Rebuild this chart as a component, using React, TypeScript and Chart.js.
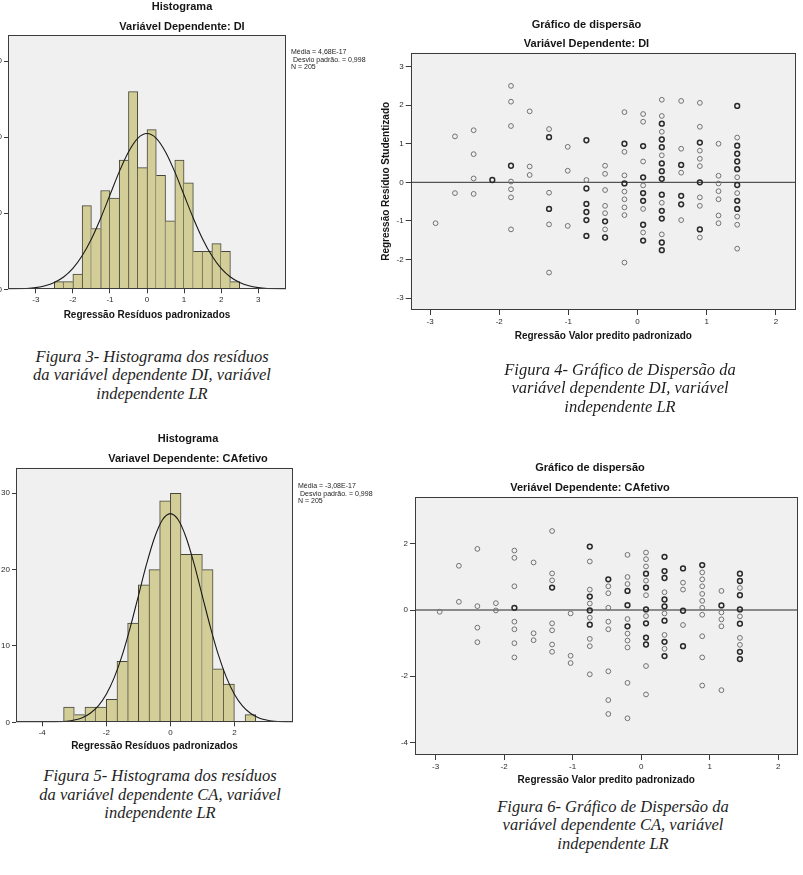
import React, { useEffect, useRef } from 'react';
import { Chart, registerables } from 'chart.js';

Chart.register(...registerables);

const FONT = "'Liberation Sans', Arial, Helvetica, sans-serif";
Chart.defaults.font.family = FONT;

// ---------------- Figura 3: histogram of residuals, DI ----------------
const diBinCenters = [-2.375, -2.125, -1.875, -1.625, -1.375, -1.125, -0.875, -0.625, -0.375, -0.125,
  0.125, 0.375, 0.625, 0.875, 1.125, 1.375, 1.625, 1.875, 2.125, 2.375];
const diCounts = [1, 1, 2, 11, 8, 13, 12, 17, 26, 16, 21, 15, 9, 17, 14, 5, 5, 6, 5, 1];
const diCurveX = [-3.75, -3.5, -3.25, -3, -2.75, -2.5, -2.25, -2, -1.75, -1.5, -1.25, -1, -0.75, -0.5, -0.25, 0,
  0.25, 0.5, 0.75, 1, 1.25, 1.5, 1.75, 2, 2.25, 2.5, 2.75, 3, 3.25, 3.5, 3.75];
const diCurveY = [0.018, 0.044, 0.102, 0.224, 0.46, 0.889, 1.61, 2.75, 4.41, 6.62, 9.35, 12.4, 15.45, 18.07, 19.86, 20.49,
  19.86, 18.07, 15.45, 12.4, 9.35, 6.62, 4.41, 2.75, 1.61, 0.889, 0.46, 0.224, 0.102, 0.044, 0.018];
const diHistXTicks = [-3, -2, -1, 0, 1, 2, 3];
const diHistYTicks = [0, 10, 20, 30];
const diStats = ['Média = 4,68E-17', ' Desvio padrão. = 0,998', 'N = 205'];

// ---------------- Figura 5: histogram of residuals, CA ----------------
const caBinCenters = [-3.167, -2.833, -2.5, -2.167, -1.833, -1.5, -1.167, -0.833, -0.5, -0.167,
  0.167, 0.5, 0.833, 1.167, 1.5, 1.833, 2.167, 2.5];
const caCounts = [2, 1, 2, 2, 3, 8, 13, 18, 20, 29, 30, 22, 22, 20, 7, 5, 0, 1];
const caCurveX = [-5, -4.75, -4.5, -4.25, -4, -3.75, -3.5, -3.25, -3, -2.75, -2.5, -2.25, -2, -1.75, -1.5, -1.25, -1,
  -0.75, -0.5, -0.25, 0, 0.25, 0.5, 0.75, 1, 1.25, 1.5, 1.75, 2, 2.25, 2.5, 2.75, 3, 3.25, 3.5, 3.75, 4];
const caCurveY = [0.0001, 0.0003, 0.001, 0.003, 0.009, 0.023, 0.058, 0.136, 0.3, 0.61, 1.19, 2.15, 3.67, 5.88, 8.83, 12.47, 16.54,
  20.61, 24.11, 26.49, 27.33, 26.49, 24.11, 20.61, 16.54, 12.47, 8.83, 5.88, 3.67, 2.15, 1.19, 0.61, 0.3, 0.136, 0.058, 0.023, 0.009];
const caHistXTicks = [-4, -2, 0, 2];
const caHistYTicks = [0, 10, 20, 30];
const caStats = ['Média = -3,08E-17', ' Desvio padrão. = 0,998', 'N = 205'];

// ---------------- Figura 4: scatter DI ----------------
const diPredicted = [-2.92, -2.64, -2.37, -2.10, -1.83, -1.56, -1.28, -1.01, -0.74, -0.47, -0.19, 0.08, 0.35, 0.63, 0.90, 1.17, 1.44];
const diResiduals: number[][] = [
  [-1.06],
  [1.19, -0.28],
  [1.35, 0.73, 0.10, -0.30],
  [0.06, 0.06],
  [2.50, 2.09, 1.46, 0.43, 0.43, 0.02, -0.18, -0.39, -1.22],
  [1.84, 0.41, 0.19],
  [1.38, 1.17, 1.17, -0.27, -0.69, -0.69, -1.09, -2.34],
  [0.92, 0.30, -1.13],
  [1.09, 1.09, 0.06, -0.16, -0.16, -0.56, -0.56, -0.77, -0.77, -0.98, -0.98, -1.39, -1.39],
  [0.43, 0.22, -0.20, -0.61, -0.80, -1.01, -1.01, -1.22, -1.43, -1.43],
  [1.82, 1.00, 1.00, 0.79, 0.18, -0.03, -0.03, -0.24, -0.44, -0.65, -0.85, -2.08],
  [1.77, 1.57, 0.94, 0.94, 0.54, 0.13, 0.13, -0.08, -0.28, -0.28, -0.48, -0.48, -0.69, -1.10, -1.10, -1.30, -1.51, -1.51],
  [2.14, 1.72, 1.52, 1.52, 1.31, 1.11, 1.11, 0.91, 0.91, 0.70, 0.49, 0.49, 0.29, 0.29, 0.09, 0.09, -0.32, -0.32, -0.53,
    -0.74, -0.74, -0.94, -0.94, -1.35, -1.56, -1.56, -1.76, -1.76],
  [2.11, 0.87, 0.45, 0.45, 0.25, -0.35, -0.35, -0.57, -0.57, -0.98],
  [2.06, 1.44, 1.03, 1.03, 0.82, 0.61, 0.42, 0.00, 0.00, -0.39, -0.61, -1.22, -1.22, -1.43],
  [1.00, 0.17, -0.03, -0.23, -0.44, -0.86, -1.06],
  [1.98, 1.98, 1.16, 0.95, 0.95, 0.74, 0.74, 0.54, 0.54, 0.34, 0.34, 0.13, -0.07, -0.07, -0.28, -0.48, -0.48,
    -0.69, -0.69, -0.89, -1.10, -1.72],
];
const scatterXTicks = [-3, -2, -1, 0, 1, 2];
const diScatterYTicks = [-3, -2, -1, 0, 1, 2, 3];

// ---------------- Figura 6: scatter CA ----------------
const caPredicted = [-2.94, -2.66, -2.39, -2.12, -1.85, -1.57, -1.30, -1.03, -0.75, -0.48, -0.20, 0.07, 0.34, 0.61, 0.89, 1.17, 1.44];
const caResiduals: number[][] = [
  [-0.05],
  [1.34, 0.25],
  [1.85, 0.12, -0.53, -0.97],
  [0.21, -0.01],
  [1.80, 1.58, 0.72, 0.07, 0.07, -0.35, -0.58, -1.00, -1.43],
  [1.44, -0.70, -0.91],
  [2.39, 1.11, 0.90, 0.68, 0.68, -0.40, -0.61, -1.04, -1.26],
  [-0.10, -1.38, -1.60],
  [1.92, 1.92, 1.47, 0.62, 0.41, 0.41, 0.20, -0.01, -0.01, -0.23, -0.44, -0.44, -0.87, -1.09, -1.94],
  [0.93, 0.93, 0.72, 0.51, 0.07, -0.35, -0.58, -1.85, -2.72, -3.14],
  [1.67, 1.00, 0.79, 0.58, 0.58, 0.15, 0.15, -0.27, -0.49, -0.49, -0.71, -0.92, -1.13, -2.20, -3.27],
  [1.74, 1.54, 1.32, 1.10, 1.10, 0.89, 0.68, 0.68, 0.45, 0.02, 0.02, -0.18, -0.40, -0.40, -0.83, -0.83, -1.04, -1.04, -1.69, -2.55],
  [1.61, 1.61, 1.18, 1.18, 0.97, 0.97, 0.54, 0.32, 0.32, 0.11, 0.11, -0.10, -0.32, -0.32, -0.75, -0.96, -0.96, -1.17, -1.39, -1.39],
  [1.26, 1.26, 0.83, 0.62, -0.02, -0.02, -0.45, -1.09, -1.09],
  [1.36, 1.36, 1.14, 0.93, 0.72, 0.49, 0.28, 0.07, -0.14, -0.79, -1.43, -2.28],
  [0.58, 0.14, 0.14, -0.07, -0.28, -0.49, -2.42],
  [1.10, 1.10, 0.88, 0.88, 0.67, 0.45, 0.45, 0.02, 0.02, -0.19, -0.41, -0.41, -0.84, -1.05, -1.26, -1.26, -1.48, -1.48],
];
const caScatterYTicks = [-4, -2, 0, 2];
const referenceLine = 0;

// ---------------- captions ----------------
const fig3Caption = ['Figura 3- Histograma dos resíduos', 'da variável dependente DI, variável', 'independente LR'];
const fig4Caption = ['Figura 4- Gráfico de Dispersão da', 'variável dependente DI, variável', 'independente LR'];
const fig5Caption = ['Figura 5- Histograma dos resíduos', 'da variável dependente CA, variável', 'independente LR'];
const fig6Caption = ['Figura 6- Gráfico de Dispersão da', 'variável dependente CA, variável', 'independente LR'];

// ---------------- styling ----------------
const PLOT_BG = '#f0f0f0';
const FRAME = '#3c3c3c';
const AXIS_COLOR = '#3a3a3a';
const BAR_FILL = '#d3ce97';
const BAR_EDGE = '#45453a';
const TEXT = '#151515';

function frameAndBackground() {
  return {
    id: 'frameAndBackground',
    beforeDraw(chart: any) {
      const { ctx, chartArea: a } = chart;
      ctx.save();
      ctx.fillStyle = PLOT_BG;
      ctx.fillRect(a.left, a.top, a.right - a.left, a.bottom - a.top);
      ctx.restore();
    },
    afterDraw(chart: any) {
      const { ctx, chartArea: a } = chart;
      ctx.save();
      ctx.strokeStyle = FRAME;
      ctx.lineWidth = 1;
      const l = Math.round(a.left) + 0.5;
      const t = Math.round(a.top) + 0.5;
      const r = Math.round(a.right) - 0.5;
      const b = Math.round(a.bottom) - 0.5;
      ctx.strokeRect(l, t, r - l, b - t);
      ctx.restore();
    },
  };
}

function fixedTicks(values: number[]) {
  return (scale: any) => {
    scale.ticks = values.map((v) => ({ value: v }));
  };
}

function valueAxis(o: {
  min: number; max: number; ticks: number[]; size: number; horizontal: boolean;
  title?: string; titlePad?: number; tickLength?: number;
}) {
  return {
    type: 'linear',
    min: o.min,
    max: o.max,
    offset: false,
    afterBuildTicks: fixedTicks(o.ticks),
    afterFit: (s: any) => {
      if (o.horizontal) s.height = o.size;
      else s.width = o.size;
    },
    grid: { display: true, drawOnChartArea: false, drawTicks: true, tickLength: o.tickLength ?? 4, color: AXIS_COLOR, offset: false },
    border: { display: false },
    ticks: { font: { family: FONT, size: 8 }, color: '#2a2a2a', padding: 2, autoSkip: false, maxRotation: 0, minRotation: 0 },
    title: o.title
      ? {
          display: true,
          text: o.title,
          color: TEXT,
          font: { family: FONT, size: 10, weight: 'bold' },
          padding: o.horizontal ? { top: 0, bottom: o.titlePad ?? 0 } : { top: o.titlePad ?? 0, bottom: 0 },
        }
      : { display: false },
  };
}

function spacerAxis(width: number) {
  return {
    type: 'linear',
    position: 'right',
    display: true,
    grid: { display: false, drawTicks: false },
    border: { display: false },
    ticks: { display: false },
    afterFit: (s: any) => {
      s.width = width;
    },
  };
}

function titlePlugins(main: string, sub: string, top: number, gap: number, bottom: number) {
  return {
    legend: { display: false },
    tooltip: { enabled: false },
    title: { display: true, text: main, color: TEXT, font: { family: FONT, size: 11, weight: 'bold' }, padding: { top, bottom: gap } },
    subtitle: { display: true, text: sub, color: TEXT, font: { family: FONT, size: 11, weight: 'bold' }, padding: { top: 0, bottom } },
  };
}

function barBorders(counts: number[]) {
  return (ctx: any) => {
    const i = ctx.dataIndex;
    const c = counts[i] ?? 0;
    const prev = i > 0 ? counts[i - 1] : 0;
    const next = i < counts.length - 1 ? counts[i + 1] : 0;
    if (c <= 0) return 0;
    return { top: 1, bottom: 0, left: c > prev ? 1 : 0, right: c >= next ? 1 : 0 };
  };
}

function histogramConfig(p: {
  centers: number[]; counts: number[]; curveX: number[]; curveY: number[];
  xMin: number; xMax: number; yMax: number; xTicks: number[]; yTicks: number[];
  title: string; subtitle: string; xTitle: string;
  yWidth: number; rightWidth: number; xHeight: number; xTitlePad: number;
  tTop: number; tGap: number; tBottom: number;
}) {
  return {
    type: 'bar',
    data: {
      datasets: [
        {
          type: 'line',
          data: p.curveX.map((x, i) => ({ x, y: p.curveY[i] })),
          borderColor: '#1a1a1a',
          borderWidth: 1.1,
          pointRadius: 0,
          fill: false,
          cubicInterpolationMode: 'monotone',
          order: 0,
        },
        {
          type: 'bar',
          data: p.centers.map((x, i) => ({ x, y: p.counts[i] })),
          backgroundColor: BAR_FILL,
          borderColor: BAR_EDGE,
          borderWidth: barBorders(p.counts),
          borderSkipped: false,
          barPercentage: 1,
          categoryPercentage: 1,
          order: 1,
        },
      ],
    },
    options: {
      animation: false,
      responsive: false,
      maintainAspectRatio: false,
      layout: { padding: 0 },
      plugins: titlePlugins(p.title, p.subtitle, p.tTop, p.tGap, p.tBottom),
      scales: {
        x: valueAxis({ min: p.xMin, max: p.xMax, ticks: p.xTicks, size: p.xHeight, horizontal: true, title: p.xTitle, titlePad: p.xTitlePad }),
        y: valueAxis({ min: 0, max: p.yMax, ticks: p.yTicks, size: p.yWidth, horizontal: false }),
        y2: spacerAxis(p.rightWidth),
      },
    },
    plugins: [frameAndBackground()],
  };
}

function scatterPoints(xs: number[], ys: number[][]) {
  const map = new Map<string, { x: number; y: number; n: number }>();
  xs.forEach((x, i) =>
    ys[i].forEach((y) => {
      const k = x + '|' + y;
      const e = map.get(k);
      if (e) e.n += 1;
      else map.set(k, { x, y, n: 1 });
    })
  );
  return Array.from(map.values());
}

function scatterConfig(p: {
  xs: number[]; ys: number[][]; xMin: number; xMax: number; yMin: number; yMax: number;
  xTicks: number[]; yTicks: number[]; title: string; subtitle: string; xTitle: string; yTitle?: string;
  yWidth: number; yTitlePad?: number; rightWidth: number; xHeight: number; xTitlePad: number;
  tTop: number; tGap: number; tBottom: number; lineColor: string; lineWidth: number;
}) {
  return {
    type: 'scatter',
    data: {
      datasets: [
        {
          type: 'line',
          data: [
            { x: p.xMin, y: referenceLine },
            { x: p.xMax, y: referenceLine },
          ],
          showLine: true,
          borderColor: p.lineColor,
          borderWidth: p.lineWidth,
          pointRadius: 0,
          fill: false,
          order: 1,
        },
        {
          data: scatterPoints(p.xs, p.ys),
          pointRadius: 2.4,
          pointBackgroundColor: 'rgba(0,0,0,0)',
          pointBorderColor: (ctx: any) => (ctx.raw && ctx.raw.n > 1 ? '#2a2a2a' : '#727272'),
          pointBorderWidth: (ctx: any) => (ctx.raw && ctx.raw.n > 1 ? 1.5 : 1),
          showLine: false,
          order: 0,
        },
      ],
    },
    options: {
      animation: false,
      responsive: false,
      maintainAspectRatio: false,
      layout: { padding: 0 },
      plugins: titlePlugins(p.title, p.subtitle, p.tTop, p.tGap, p.tBottom),
      scales: {
        x: valueAxis({ min: p.xMin, max: p.xMax, ticks: p.xTicks, size: p.xHeight, horizontal: true, title: p.xTitle, titlePad: p.xTitlePad, tickLength: 5 }),
        y: valueAxis({ min: p.yMin, max: p.yMax, ticks: p.yTicks, size: p.yWidth, horizontal: false, title: p.yTitle, titlePad: p.yTitlePad, tickLength: 5 }),
        y2: spacerAxis(p.rightWidth),
      },
    },
    plugins: [frameAndBackground()],
  };
}

const makeFig3 = () =>
  histogramConfig({
    centers: diBinCenters, counts: diCounts, curveX: diCurveX, curveY: diCurveY,
    xMin: -3.75, xMax: 3.75, yMax: 33.45, xTicks: diHistXTicks, yTicks: diHistYTicks,
    title: 'Histograma', subtitle: 'Variável Dependente: DI', xTitle: 'Regressão Resíduos padronizados',
    yWidth: 32, rightWidth: 102, xHeight: 40.7, xTitlePad: 9,
    tTop: 0, tGap: 7.2, tBottom: 1.4,
  });

const makeFig5 = () =>
  histogramConfig({
    centers: caBinCenters, counts: caCounts, curveX: caCurveX, curveY: caCurveY,
    xMin: -4.82, xMax: 3.83, yMax: 33.35, xTicks: caHistXTicks, yTicks: caHistYTicks,
    title: 'Histograma', subtitle: 'Variavel Dependente: CAfetivo', xTitle: 'Regressão Resíduos padronizados',
    yWidth: 16, rightWidth: 83, xHeight: 37.7, xTitlePad: 7.3,
    tTop: 2.4, tGap: 6.8, tBottom: 2.1,
  });

const makeFig4 = () =>
  scatterConfig({
    xs: diPredicted, ys: diResiduals, xMin: -3.28, xMax: 2.29, yMin: -3.31, yMax: 3.36,
    xTicks: scatterXTicks, yTicks: diScatterYTicks,
    title: 'Gráfico de dispersão', subtitle: 'Variável Dependente: DI',
    xTitle: 'Regressão Valor predito padronizado', yTitle: 'Regressão Resíduo Studentizado',
    yWidth: 40.7, yTitlePad: 10.7, rightWidth: 7, xHeight: 40, xTitlePad: 8,
    tTop: 8.4, tGap: 5.8, tBottom: 2.1, lineColor: '#2e2e2e', lineWidth: 1,
  });

const makeFig6 = () =>
  scatterConfig({
    xs: caPredicted, ys: caResiduals, xMin: -3.3, xMax: 2.28, yMin: -4.38, yMax: 3.41,
    xTicks: scatterXTicks, yTicks: caScatterYTicks,
    title: 'Gráfico de dispersão', subtitle: 'Veriável Dependente: CAfetivo',
    xTitle: 'Regressão Valor predito padronizado',
    yWidth: 38, rightWidth: 2, xHeight: 40, xTitlePad: 9,
    tTop: 6.7, tGap: 6.8, tBottom: 2.4, lineColor: '#6a6a6a', lineWidth: 1.5,
  });

function ChartCanvas(props: { left: number; top: number; width: number; height: number; make: () => any }) {
  const ref = useRef<HTMLCanvasElement | null>(null);
  useEffect(() => {
    if (!ref.current) return;
    const chart = new Chart(ref.current, props.make());
    return () => chart.destroy();
  }, []);
  return (
    <canvas
      ref={ref}
      width={props.width}
      height={props.height}
      style={{ position: 'absolute', left: props.left, top: props.top, width: props.width, height: props.height }}
    />
  );
}

function Stats(props: { left: number; top: number; lines: string[] }) {
  return (
    <div
      style={{
        position: 'absolute', left: props.left, top: props.top, fontFamily: FONT, fontSize: 7,
        lineHeight: '7.5px', color: '#222', whiteSpace: 'pre',
      }}
    >
      {props.lines.map((l, i) => (
        <div key={i}>{l}</div>
      ))}
    </div>
  );
}

function Caption(props: { center: number; top: number; lines: string[] }) {
  return (
    <div
      style={{
        position: 'absolute', left: props.center - 180, top: props.top, width: 360, textAlign: 'center',
        fontFamily: "'Liberation Serif', 'Times New Roman', serif", fontStyle: 'italic', fontSize: 16.5,
        lineHeight: '18.5px', color: '#1e1e1e', whiteSpace: 'nowrap',
      }}
    >
      {props.lines.map((l, i) => (
        <div key={i}>{l}</div>
      ))}
    </div>
  );
}

export default function App() {
  return (
    <div style={{ position: 'absolute', left: 0, top: 0, width: 803, height: 875, overflow: 'hidden', background: '#ffffff' }}>
      <ChartCanvas left={-24} top={0} width={412} height={330} make={makeFig3} />
      <ChartCanvas left={370} top={10} width={433} height={340} make={makeFig4} />
      <ChartCanvas left={0} top={430} width={376} height={330} make={makeFig5} />
      <ChartCanvas left={377} top={455} width={426} height={340} make={makeFig6} />
      <Stats left={291} top={48} lines={diStats} />
      <Stats left={298} top={482} lines={caStats} />
      <Caption center={152} top={347.6} lines={fig3Caption} />
      <Caption center={620} top={360.6} lines={fig4Caption} />
      <Caption center={160} top={767.3} lines={fig5Caption} />
      <Caption center={613} top={797.6} lines={fig6Caption} />
    </div>
  );
}
